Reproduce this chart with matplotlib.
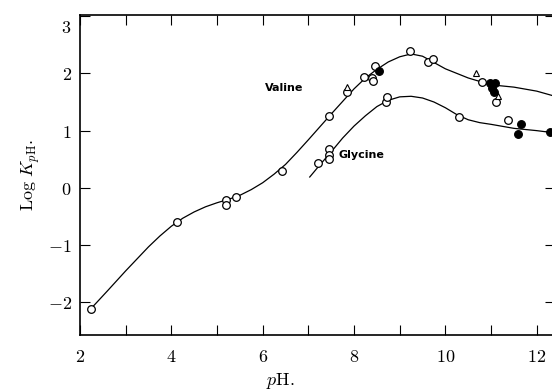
import matplotlib
matplotlib.use("Agg")
import matplotlib.pyplot as plt
from matplotlib.ticker import FixedLocator, NullFormatter

plt.rcParams.update(
    {
        "font.family": "DejaVu Serif",
        "mathtext.fontset": "cm",
        "figure.facecolor": "white",
        "axes.facecolor": "white",
    }
)

# hand-drawn curves
valine_curve_x = [2.24, 2.6, 3.0, 3.5, 3.75, 4.0, 4.25, 4.5, 4.75, 5.0, 5.25, 5.5, 5.75,
                  6.0, 6.25, 6.5, 6.75, 7.0, 7.5, 8.0, 8.25, 8.5, 8.75, 9.0, 9.25, 9.5,
                  9.75, 10.0, 10.5, 11.0, 11.5, 12.0, 12.4]
valine_curve_y = [-2.11, -1.80, -1.45, -1.03, -0.84, -0.67, -0.53, -0.42, -0.33, -0.26,
                  -0.20, -0.13, -0.03, 0.09, 0.24, 0.41, 0.62, 0.84, 1.29, 1.73, 1.92,
                  2.07, 2.20, 2.29, 2.34, 2.30, 2.19, 2.08, 1.92, 1.80, 1.76, 1.69, 1.60]
glycine_curve_x = [7.03, 7.25, 7.5, 7.75, 8.0, 8.25, 8.5, 8.75, 9.0, 9.25, 9.5, 9.75,
                   10.0, 10.25, 10.5, 10.75, 11.0, 11.5, 12.0, 12.4]
glycine_curve_y = [0.19, 0.40, 0.63, 0.87, 1.08, 1.26, 1.42, 1.53, 1.59, 1.60, 1.57,
                   1.50, 1.40, 1.28, 1.19, 1.14, 1.11, 1.04, 1.00, 0.96]

# measured points
valine_open_x = [2.24, 4.12, 5.19, 5.19, 5.41, 6.42, 7.45, 7.84, 8.21, 8.39, 8.41,
                 8.46, 9.22, 9.61, 9.72, 10.80, 11.10]
valine_open_y = [-2.11, -0.60, -0.21, -0.30, -0.16, 0.30, 1.26, 1.67, 1.94, 1.92, 1.86,
                 2.13, 2.39, 2.20, 2.25, 1.85, 1.50]
valine_filled_x = [8.54, 10.97, 11.08, 11.06, 11.03]
valine_filled_y = [2.04, 1.83, 1.83, 1.68, 1.75]
valine_tri_x = [7.84, 10.67, 11.15]
valine_tri_y = [1.76, 2.00, 1.61]

glycine_open_x = [7.20, 7.45, 7.45, 7.45, 8.70, 8.72, 10.29, 11.37]
glycine_open_y = [0.44, 0.68, 0.58, 0.50, 1.50, 1.59, 1.24, 1.19]
glycine_filled_x = [11.65, 11.60, 12.28]
glycine_filled_y = [1.12, 0.94, 0.98]

x_ticks = [2, 3, 4, 5, 6, 7, 8, 9, 10, 11, 12]
x_labels = ["2", "4", "6", "8", "10", "12"]
y_ticks = [-2, -1, 0, 1, 2, 3]
y_labels = ["$-2$", "$-1$", "$0$", "$1$", "$2$"]


def main():
    fig = plt.figure(figsize=(5.52, 3.91), dpi=100)
    ax = fig.add_axes([80 / 552, 1 - 335 / 391, 475 / 552, 320 / 391])
    ax.set_xlim(2, 12.4)
    ax.set_ylim(-2.57, 3.02)

    ax.plot(valine_curve_x, valine_curve_y, color="black", lw=0.9, zorder=2)
    ax.plot(glycine_curve_x, glycine_curve_y, color="black", lw=0.9, zorder=2)

    open_kw = dict(ls="none", marker="o", ms=5.5, mfc="white", mec="black", mew=0.9, zorder=4)
    fill_kw = dict(ls="none", marker="o", ms=5.5, mfc="black", mec="black", mew=0.9, zorder=5)
    ax.plot(valine_open_x, valine_open_y, **open_kw)
    ax.plot(glycine_open_x, glycine_open_y, **open_kw)
    ax.plot(valine_filled_x, valine_filled_y, **fill_kw)
    ax.plot(glycine_filled_x, glycine_filled_y, **fill_kw)
    ax.plot(valine_tri_x, valine_tri_y, ls="none", marker="^", ms=5, mfc="white",
            mec="black", mew=0.8, zorder=4)

    ax.text(6.05, 1.75, "Valine", fontsize=8, fontweight="bold", family="DejaVu Sans",
            ha="left", va="center")
    ax.text(7.65, 0.58, "Glycine", fontsize=8, fontweight="bold", family="DejaVu Sans",
            ha="left", va="center")

    ax.xaxis.set_major_locator(FixedLocator([2, 4, 6, 8, 10, 12]))
    ax.xaxis.set_minor_locator(FixedLocator(x_ticks))
    ax.set_xticklabels(["$%s$" % s for s in x_labels])
    ax.xaxis.set_minor_formatter(NullFormatter())
    ax.set_yticks(y_ticks)
    ax.set_yticklabels(y_labels + [""])
    ax.text(1.69, 2.8, "$3$", fontsize=13, ha="center", va="center")

    ax.tick_params(which="both", direction="in", length=7, width=0.8,
                   top=True, right=True, labelsize=13)
    ax.tick_params(axis="x", which="major", pad=9)
    ax.tick_params(axis="y", which="major", pad=6)
    for side in ["left", "bottom", "top", "right"]:
        ax.spines[side].set_linewidth(1.2)

    ax.set_ylabel(r"$\mathrm{Log}\ K_{p\mathrm{H}}.$", fontsize=13, labelpad=4)
    fig.text(280 / 552, 1 - 381 / 391, r"$p\mathrm{H}.$", fontsize=13, ha="center", va="center")

    fig.savefig("out.png", dpi=100)


if __name__ == "__main__":
    main()
